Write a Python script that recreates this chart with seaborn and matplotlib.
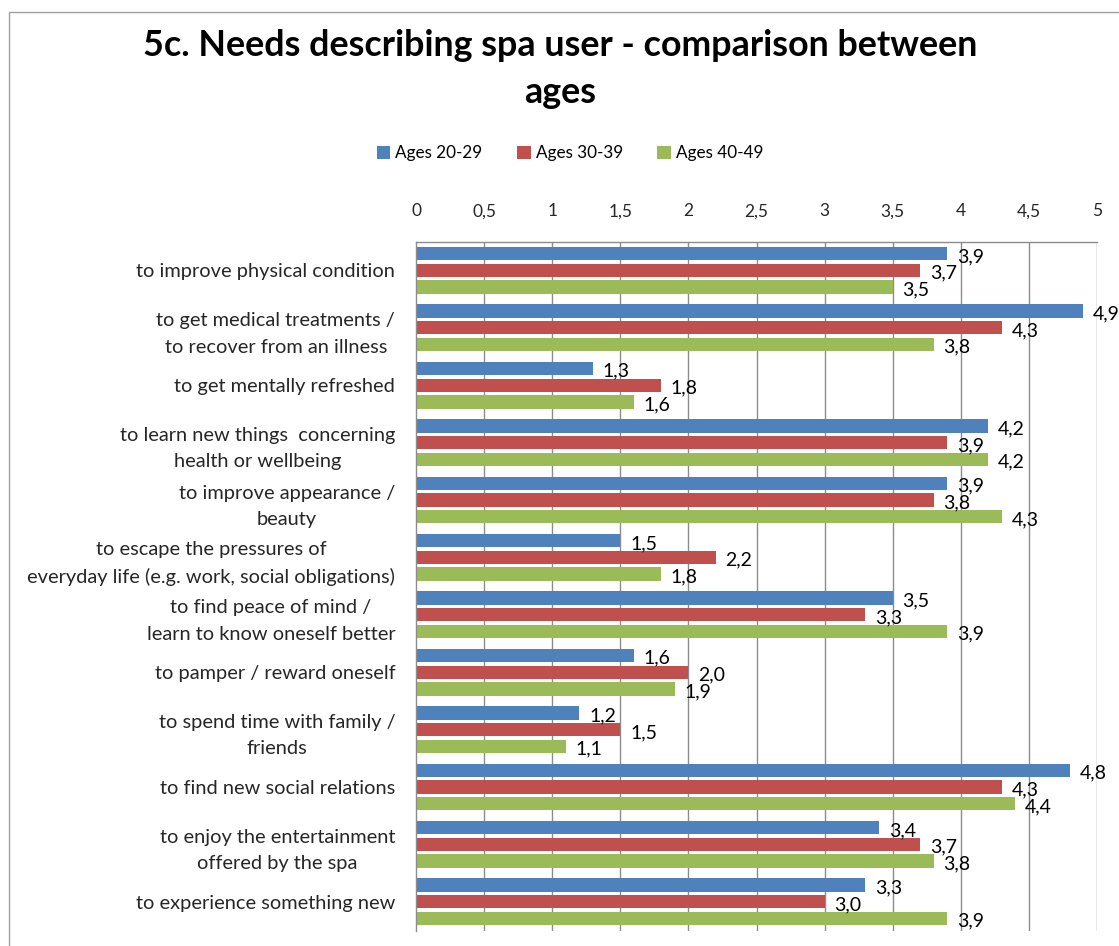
import numpy as np
import pandas as pd
import matplotlib
matplotlib.use("Agg")
import matplotlib.pyplot as plt
from matplotlib.patches import Patch, Rectangle
import seaborn as sns

# ---- data -------------------------------------------------------------
needs = [
    "to improve physical condition",
    "to get medical treatments /\nto recover from an illness",
    "to get mentally refreshed",
    "to learn new things  concerning\nhealth or wellbeing",
    "to improve appearance /\nbeauty",
    "to escape the pressures of\neveryday life (e.g. work, social obligations)",
    "to find peace of mind /\nlearn to know oneself better",
    "to pamper / reward oneself",
    "to spend time with family /\nfriends",
    "to find new social relations",
    "to enjoy the entertainment\noffered by the spa",
    "to experience something new",
]
age_groups = ["Ages 20-29", "Ages 30-39", "Ages 40-49"]
ages_20_29 = [3.9, 4.9, 1.3, 4.2, 3.9, 1.5, 3.5, 1.6, 1.2, 4.8, 3.4, 3.3]
ages_30_39 = [3.7, 4.3, 1.8, 3.9, 3.8, 2.2, 3.3, 2.0, 1.5, 4.3, 3.7, 3.0]
ages_40_49 = [3.5, 3.8, 1.6, 4.2, 4.3, 1.8, 3.9, 1.9, 1.1, 4.4, 3.8, 3.9]
x_ticks = [0, 0.5, 1, 1.5, 2, 2.5, 3, 3.5, 4, 4.5, 5]
x_tick_labels = ["0", "0,5", "1", "1,5", "2", "2,5", "3", "3,5", "4", "4,5", "5"]
title = "5c. Needs describing spa user - comparison between\nages"

series = [ages_20_29, ages_30_39, ages_40_49]
df = pd.DataFrame({
    "need": np.tile(needs, len(age_groups)),
    "group": np.repeat(age_groups, len(needs)),
    "value": np.concatenate(series),
})

colors = ["#4F81BD", "#C0504D", "#9BBB59"]
grid_col = "#8C8C8C"

# ---- style ------------------------------------------------------------
sns.set_style("white")
plt.rcParams["font.family"] = ["Lato", "DejaVu Sans"]
plt.rcParams["text.color"] = "black"

W, H = 1119, 946
fig = plt.figure(figsize=(W / 100, H / 100), dpi=100)

# plot area in pixels
left_px, right_px, top_px, bottom_px = 416, 1097, 241.7, 930.5
ax = fig.add_axes([left_px / W, 1 - bottom_px / H,
                   (right_px - left_px) / W, (bottom_px - top_px) / H])

sns.barplot(data=df, y="need", x="value", hue="group", orient="h",
            palette=colors, hue_order=age_groups, order=needs,
            saturation=1, width=0.873, gap=0.2, errorbar=None,
            linewidth=0, legend=False, ax=ax)

ax.set_xlim(0, 5)
ax.set_ylim(len(needs) - 0.5, -0.5)
ax.set_xlabel("")
ax.set_ylabel("")

# value axis on top, no tick marks
ax.xaxis.tick_top()
ax.set_xticks(x_ticks)
ax.set_xticklabels(x_tick_labels, fontsize=12.5)
ax.tick_params(axis="x", length=0, pad=16)
ax.tick_params(axis="y", length=0, pad=15, labelsize=14.4)
for lbl in ax.get_yticklabels():
    lbl.set_multialignment("center")
    lbl.set_linespacing(1.66)

# vertical gridlines
ax.grid(False)
for xv in x_ticks[1:]:
    ax.axvline(xv, color=grid_col, lw=1.0, zorder=0)
ax.set_axisbelow(True)

for side in ["bottom", "right"]:
    ax.spines[side].set_visible(False)
for side in ["top", "left"]:
    ax.spines[side].set_visible(True)
    ax.spines[side].set_color(grid_col)
    ax.spines[side].set_linewidth(1.0)

# value labels at bar ends
for cont, vals in zip(ax.containers, series):
    for bar, v in zip(cont, vals):
        yc = bar.get_y() + bar.get_height() / 2
        ax.annotate(f"{v:.1f}".replace(".", ","), xy=(bar.get_width(), yc),
                    xytext=(7, -2), textcoords="offset points",
                    ha="left", va="center", fontsize=14,
                    annotation_clip=False)

# legend
handles = [Patch(facecolor=c, edgecolor="none") for c in colors]
fig.legend(handles, age_groups, loc="center", ncol=3,
           bbox_to_anchor=(570 / W, 1 - 153 / H), frameon=False,
           fontsize=12.3, handlelength=0.8, handleheight=0.8,
           handletextpad=0.3, columnspacing=2.0)

# title
fig.suptitle(title, x=560 / W, y=1 - 69 / H, va="center", ha="center",
             fontsize=25.8, fontweight="bold", linespacing=1.5)

# chart border
fig.patches.append(Rectangle((9 / W, -0.05), 1.1, 1 - 12 / H + 0.05,
                             transform=fig.transFigure, fill=False,
                             edgecolor="#A0A0A0", lw=1.0))

fig.savefig("out.png", dpi=100)
